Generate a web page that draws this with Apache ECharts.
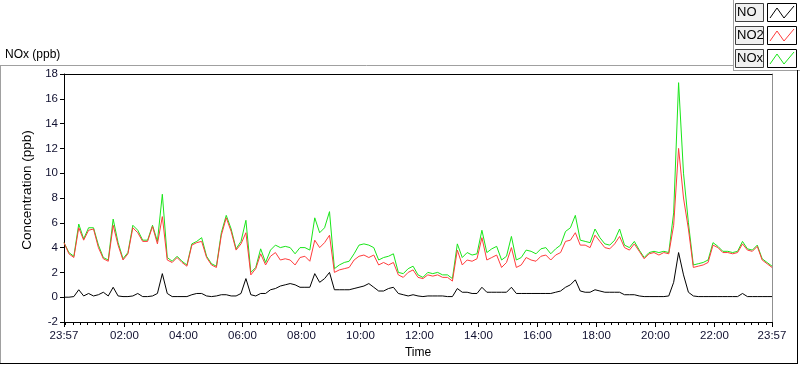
<!DOCTYPE html>
<html><head><meta charset="utf-8">
<script src="https://cdn.jsdelivr.net/npm/echarts@6/dist/echarts.min.js"></script>
<style>html,body{margin:0;padding:0;background:#fff}#c{width:800px;height:365px}</style>
</head><body><div id="c"></div>
<script>
// minutes relative to 00:00; first sample at 23:57 of previous day, 10-min steps
const startMin = -3, stepMin = 10;
const seriesNames = ['NO', 'NO2', 'NOx'];
const tickLabelTimes = [-3, 120, 240, 360, 480, 600, 720, 840, 960, 1080, 1200, 1320, 1437];
const yTicks = [-2, 0, 2, 4, 6, 8, 10, 12, 14, 16, 18];

const no2 = [4.4,3.5,3.2,5.6,4.6,5.4,5.5,4.0,3.1,2.9,5.8,4.2,3.0,3.5,5.6,5.2,4.5,4.5,5.7,4.3,
6.5,3.0,2.8,3.2,2.8,2.5,4.2,4.4,4.5,3.2,2.6,2.4,5.0,6.4,5.3,3.8,4.3,5.2,1.8,2.3,
3.5,2.6,3.3,3.6,3.0,3.1,3.0,2.6,3.2,3.3,2.9,4.6,4.0,4.4,5.0,2.0,2.2,2.3,2.4,3.0,
3.3,3.4,3.2,3.4,2.6,2.8,2.6,2.8,1.8,1.6,2.0,2.2,1.6,1.5,1.8,1.7,1.8,1.6,1.6,1.3,
3.8,2.6,3.0,2.9,3.1,4.8,3.0,3.2,3.4,2.4,2.8,4.0,2.4,2.6,3.2,3.0,2.9,3.3,3.4,3.0,
3.4,3.6,4.5,4.6,5.2,4.2,4.2,4.0,5.0,4.5,4.0,3.9,4.3,4.9,4.0,3.8,4.3,3.7,3.1,3.5,
3.6,3.4,3.6,3.5,5.8,12.0,8.0,5.5,2.4,2.5,2.6,2.8,4.2,4.0,3.6,3.6,3.5,3.6,4.3,3.8,
3.7,4.1,3.0,2.7,2.4];
const nox = [4.4,3.6,3.3,5.9,4.7,5.6,5.6,4.2,3.2,3.0,6.3,4.4,3.1,3.6,5.8,5.4,4.6,4.6,5.8,4.5,
8.3,3.2,2.9,3.3,2.9,2.6,4.3,4.5,4.8,3.3,2.7,2.5,5.2,6.6,5.5,3.9,4.5,6.2,2.0,2.4,
3.9,2.8,3.8,4.2,4.0,4.1,4.0,3.5,4.0,4.0,3.8,6.4,5.2,5.6,6.9,2.3,2.6,2.8,2.9,3.5,
4.2,4.3,4.2,4.0,3.0,3.2,3.3,3.5,2.0,1.9,2.3,2.5,1.8,1.6,2.0,1.9,2.0,1.8,1.8,1.5,
4.3,3.2,3.6,3.4,3.5,5.4,3.6,3.9,4.1,3.0,3.3,4.9,3.0,3.2,3.8,3.7,3.5,3.9,4.0,3.5,
3.9,4.2,5.3,5.6,6.6,4.6,4.5,4.4,5.5,4.8,4.3,4.2,4.6,5.5,4.2,4.0,4.5,3.8,3.2,3.6,
3.7,3.6,3.7,3.6,6.8,17.3,10.0,6.0,2.6,2.7,2.8,3.0,4.4,4.1,3.7,3.7,3.6,3.7,4.5,3.9,
3.8,4.2,3.1,2.8,2.5];
const no = [0.0,0.0,0.05,0.6,0.1,0.3,0.1,0.2,0.4,0.1,0.8,0.1,0.05,0.05,0.1,0.3,0.05,0.05,0.1,0.3,
1.9,0.3,0.05,0.05,0.05,0.05,0.2,0.3,0.3,0.1,0.05,0.1,0.2,0.2,0.1,0.1,0.3,1.5,0.2,0.1,
0.3,0.3,0.6,0.7,0.9,1.0,1.1,1.0,0.8,0.8,0.8,1.9,1.2,1.5,2.0,0.6,0.6,0.6,0.6,0.7,
0.8,0.9,1.1,0.8,0.5,0.5,0.7,0.8,0.3,0.2,0.1,0.2,0.1,0.05,0.1,0.1,0.1,0.1,0.05,0.05,
0.7,0.4,0.4,0.3,0.3,0.8,0.4,0.4,0.4,0.4,0.4,0.8,0.3,0.3,0.3,0.3,0.3,0.3,0.3,0.3,
0.4,0.5,0.8,1.0,1.4,0.5,0.4,0.4,0.6,0.5,0.4,0.4,0.4,0.4,0.2,0.2,0.2,0.1,0.05,0.05,
0.05,0.05,0.05,0.1,1.2,3.6,1.8,0.4,0.1,0.05,0.05,0.05,0.05,0.05,0.05,0.05,0.05,0.05,0.3,0.05,
0.05,0.05,0.05,0.05,0.05];

const pair = arr => arr.map((v, i) => [startMin + i * stepMin, v]);
const minorTicks = [];
for (let m = 0; m <= 1425; m += 15) minorTicks.push(m);
const fmt = v => {
  if (v === -3 || v === 1437) return '23:57';
  const h = Math.round(v / 60);
  return (h < 10 ? '0' : '') + h + ':00';
};
const FONT = 'Liberation Sans';
const chart = echarts.init(document.getElementById('c'), null, {renderer: 'canvas'});

const legendRows = [{name: 'NO', color: '#000000', y: 3}, {name: 'NO2', color: '#ff3c3c', y: 26}, {name: 'NOx', color: '#19e619', y: 49}];
const graphics = [
  {type: 'text', left: 5, top: 49, style: {text: 'NOx (ppb)', font: '12px ' + FONT, fill: '#000'}},
  {type: 'line', shape: {x1: 0, y1: 65.5, x2: 733, y2: 65.5}, style: {stroke: '#a0a0a0', lineWidth: 1}},
  {type: 'line', shape: {x1: 733.5, y1: 0, x2: 733.5, y2: 70}, style: {stroke: '#a0a0a0', lineWidth: 1}},
  {type: 'line', shape: {x1: 733, y1: 70.5, x2: 800, y2: 70.5}, style: {stroke: '#a0a0a0', lineWidth: 1}},
  {type: 'line', shape: {x1: 0.5, y1: 65, x2: 0.5, y2: 364}, style: {stroke: '#a0a0a0', lineWidth: 1}},
  {type: 'line', shape: {x1: 0, y1: 363.5, x2: 798, y2: 363.5}, style: {stroke: '#000', lineWidth: 1}},
  {type: 'line', shape: {x1: 797.5, y1: 70, x2: 797.5, y2: 364}, style: {stroke: '#000', lineWidth: 1}}
];
legendRows.forEach(r => {
  graphics.push({type: 'rect', shape: {x: 735.5, y: r.y + 0.5, width: 28, height: 18}, style: {fill: '#f0f0f0', stroke: '#404040', lineWidth: 1}});
  graphics.push({type: 'text', left: 737, top: r.y + 3, style: {text: r.name, font: '13px ' + FONT, fill: '#000'}});
  graphics.push({type: 'rect', shape: {x: 767.5, y: r.y + 0.5, width: 29, height: 18}, style: {fill: '#fff', stroke: '#000', lineWidth: 1}});
  graphics.push({type: 'polyline', shape: {points: [[770, r.y + 15], [777, r.y + 5], [784, r.y + 15], [794, r.y + 3]]}, style: {stroke: r.color, lineWidth: 1, fill: null}});
});

chart.setOption({
  animation: false,
  backgroundColor: '#fff',
  grid: {left: 64, right: 28, top: 74, bottom: 43, containLabel: false},
  graphic: graphics,
  xAxis: [
    {type: 'value', min: -3, max: 1437, position: 'bottom',
      name: 'Time', nameLocation: 'middle', nameGap: 25,
      nameTextStyle: {fontFamily: FONT, fontSize: 12, color: '#000'},
      axisLine: {show: true, onZero: false, lineStyle: {color: '#000', width: 1}},
      axisTick: {show: true, length: 5, customValues: tickLabelTimes, lineStyle: {color: '#000'}},
      axisLabel: {customValues: tickLabelTimes, formatter: fmt, fontFamily: FONT, fontSize: 11.5, color: '#101030', margin: 8, showMinLabel: true, showMaxLabel: true},
      splitLine: {show: false}},
    {type: 'value', min: -3, max: 1437, position: 'bottom', gridIndex: 0,
      axisLine: {show: false, onZero: false},
      axisTick: {show: true, length: 3, customValues: minorTicks, lineStyle: {color: '#000'}},
      axisLabel: {show: false}, splitLine: {show: false}},
    {type: 'value', min: -3, max: 1437, position: 'top', gridIndex: 0,
      axisLine: {show: true, onZero: false, lineStyle: {color: '#000'}}, axisTick: {show: false}, axisLabel: {show: false}, splitLine: {show: false}}
  ],
  yAxis: [
    {type: 'value', min: -2, max: 18, interval: 2, position: 'left',
      name: 'Concentration (ppb)', nameLocation: 'middle', nameGap: 29,
      nameTextStyle: {fontFamily: FONT, fontSize: 13.5, color: '#000', padding: [0, 0, 0, 16]},
      axisLine: {show: true, onZero: false, lineStyle: {color: '#000', width: 1}},
      axisTick: {show: true, length: 4, lineStyle: {color: '#000'}},
      axisLabel: {fontFamily: FONT, fontSize: 11.5, color: '#101030', margin: 6},
      splitLine: {show: false}},
    {type: 'value', min: -2, max: 18, interval: 2, position: 'right',
      axisLine: {show: true, onZero: false, lineStyle: {color: '#909090'}}, axisTick: {show: false}, axisLabel: {show: false}, splitLine: {show: false}}
  ],
  series: [
    {name: 'NOx', type: 'line', data: pair(nox), showSymbol: false, symbol: 'none', lineStyle: {color: '#19e619', width: 1}, itemStyle: {color: '#19e619'}, z: 2},
    {name: 'NO2', type: 'line', data: pair(no2), showSymbol: false, symbol: 'none', lineStyle: {color: '#ff3c3c', width: 1}, itemStyle: {color: '#ff3c3c'}, z: 3},
    {name: 'NO', type: 'line', data: pair(no), showSymbol: false, symbol: 'none', lineStyle: {color: '#000', width: 1}, itemStyle: {color: '#000'}, z: 4}
  ]
});
</script></body></html>
